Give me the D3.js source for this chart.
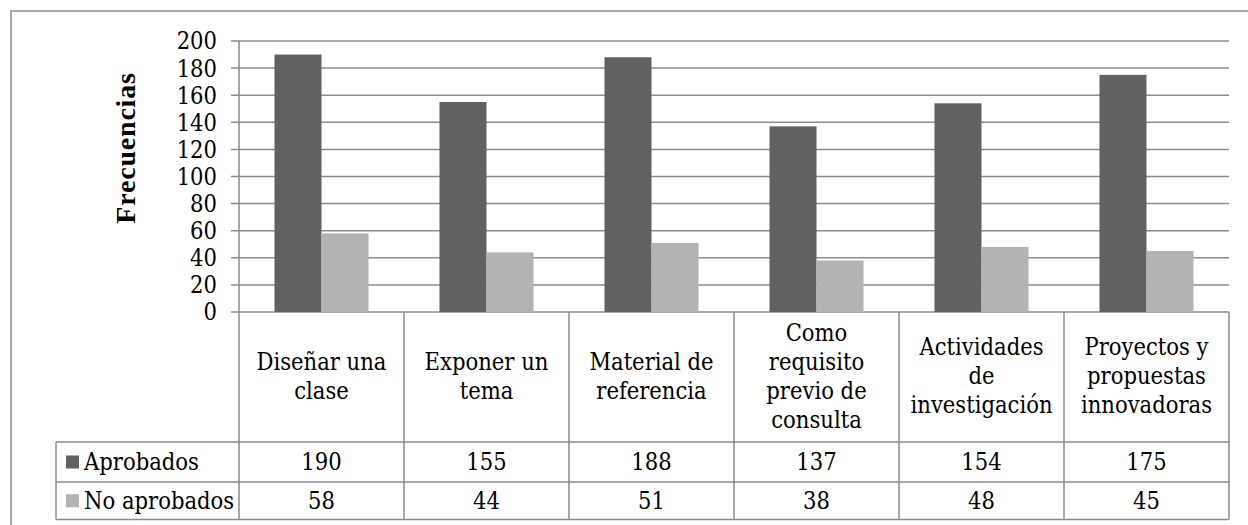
<!DOCTYPE html>
<html>
<head>
<meta charset="utf-8">
<script src="https://cdn.jsdelivr.net/npm/d3@7/dist/d3.min.js"></script>
<style>
  html, body { margin: 0; padding: 0; background: #ffffff; }
  svg { display: block; }
  text { fill: #000; font-family: "DejaVu Serif", serif; font-stretch: condensed; }
  text.title { font-family: "Liberation Serif", serif; font-stretch: normal; font-weight: bold; }
</style>
</head>
<body>
<svg id="chart" width="1248" height="525"></svg>
<script>
// ---- Data ----
const categories = [
  "Diseñar una\nclase",
  "Exponer un\ntema",
  "Material de\nreferencia",
  "Como\nrequisito\nprevio de\nconsulta",
  "Actividades\nde\ninvestigación",
  "Proyectos y\npropuestas\ninnovadoras"
];
const seriesNames = ["Aprobados", "No aprobados"];
const aprobados = [190, 155, 188, 137, 154, 175];
const noAprobados = [58, 44, 51, 38, 48, 45];
const yTicks = [0, 20, 40, 60, 80, 100, 120, 140, 160, 180, 200];
const yTitle = "Frecuencias";

// ---- Layout ----
const svg = d3.select("#chart");
const colors = ["#616161", "#b3b3b3"];
const lineColor = "#8c8c8c";
const plotLeft = 239, plotRight = 1229, plotTop = 41, plotBottom = 312;
const row1Bottom = 442, row2Bottom = 482, row3Bottom = 519.5;
const tableLeft = 56;
const fontSize = 23.5;

const series = [aprobados, noAprobados];

// outer chart border
svg.append("rect")
  .attr("x", 11).attr("y", 11).attr("width", 1250).attr("height", 530)
  .attr("fill", "none").attr("stroke", lineColor).attr("stroke-width", 1.5);

const x = d3.scaleBand().domain(categories).range([plotLeft, plotRight]).padding(0);
const xInner = d3.scaleBand().domain(seriesNames).range([0, x.bandwidth()])
  .paddingInner(0).paddingOuter(0.755);
const y = d3.scaleLinear().domain([0, 200]).range([plotBottom, plotTop]);

// gridlines + tick marks
svg.append("g").selectAll("line").data(yTicks).join("line")
  .attr("x1", plotLeft - 8).attr("x2", plotRight)
  .attr("y1", d => y(d)).attr("y2", d => y(d))
  .attr("stroke", lineColor).attr("stroke-width", 1.5);

// tick labels
svg.append("g").selectAll("text").data(yTicks).join("text")
  .attr("x", 217).attr("y", d => y(d))
  .attr("dy", "0.36em")
  .attr("text-anchor", "end")
  .attr("font-size", fontSize)
  .text(d => d);

// axis title
svg.append("text")
  .attr("class", "title")
  .attr("transform", `translate(135,148) rotate(-90)`)
  .attr("text-anchor", "middle")
  .attr("font-size", 28)
  .attr("letter-spacing", 0.8)
  .text(yTitle);

// bars
seriesNames.forEach((s, si) => {
  svg.append("g").selectAll("rect").data(series[si]).join("rect")
    .attr("x", (d, i) => x(categories[i]) + xInner(s))
    .attr("width", xInner.bandwidth())
    .attr("y", d => y(d))
    .attr("height", d => y(0) - y(d))
    .attr("fill", colors[si]);
});

// ---- data table ----
const tbl = svg.append("g");
const bounds = categories.map(c => x(c)).concat([plotRight]);
tbl.selectAll("line.v").data(bounds).join("line")
  .attr("x1", d => d).attr("x2", d => d)
  .attr("y1", (d, i) => (i === 0 ? plotTop : plotBottom)).attr("y2", row3Bottom)
  .attr("stroke", lineColor).attr("stroke-width", 1.5);
tbl.append("line").attr("x1", tableLeft).attr("x2", tableLeft)
  .attr("y1", row1Bottom).attr("y2", row3Bottom)
  .attr("stroke", lineColor).attr("stroke-width", 1.5);
[row1Bottom, row2Bottom, row3Bottom].forEach(yy => {
  tbl.append("line").attr("x1", tableLeft).attr("x2", plotRight)
    .attr("y1", yy).attr("y2", yy)
    .attr("stroke", lineColor).attr("stroke-width", 1.5);
});

// category labels
const lh = 29;
const catCenter = (plotBottom + row1Bottom) / 2;
categories.forEach(c => {
  const lines = c.split("\n");
  const t = tbl.append("text")
    .attr("text-anchor", "middle")
    .attr("font-size", fontSize);
  lines.forEach((ln, li) => {
    t.append("tspan")
      .attr("x", x(c) + x.bandwidth() / 2)
      .attr("y", catCenter - (lines.length - 1) * lh / 2 + li * lh + 7)
      .text(ln);
  });
});

// series rows
const rowTops = [row1Bottom, row2Bottom];
const rowBottoms = [row2Bottom, row3Bottom];
seriesNames.forEach((s, si) => {
  const cy = (rowTops[si] + rowBottoms[si]) / 2;
  tbl.append("rect").attr("x", 66).attr("y", cy - 6.5)
    .attr("width", 13).attr("height", 13).attr("fill", colors[si]);
  tbl.append("text").attr("x", 84).attr("y", cy).attr("dy", "0.36em")
    .attr("font-size", fontSize).text(s);
  tbl.append("g").selectAll("text").data(series[si]).join("text")
    .attr("x", (d, i) => x(categories[i]) + x.bandwidth() / 2)
    .attr("y", cy).attr("dy", "0.36em")
    .attr("text-anchor", "middle")
    .attr("font-size", fontSize)
    .text(d => d);
});
</script>
</body>
</html>
